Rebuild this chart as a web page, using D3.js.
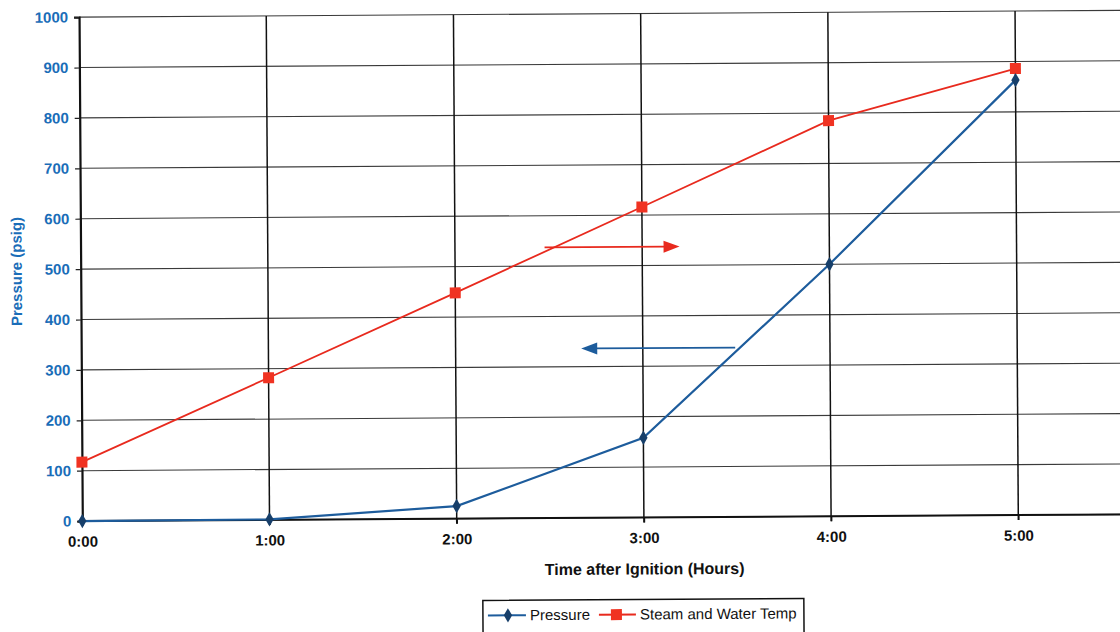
<!DOCTYPE html>
<html>
<head>
<meta charset="utf-8">
<script src="https://cdn.jsdelivr.net/npm/d3@7"></script>
<style>
  html, body { margin: 0; padding: 0; background: #fff; }
  svg { display: block; font-family: "Liberation Sans", Arial, sans-serif; }
</style>
</head>
<body>
<svg id="chart" width="1120" height="632"></svg>
<script>
// Boiler start-up curve: pressure and steam/water temperature after ignition
const timeLabels = ["0:00", "1:00", "2:00", "3:00", "4:00", "5:00"];
const pressure   = [0, 1, 25, 158, 500, 863];
const steamTemp  = [117, 282, 448, 616, 785, 886];
const yTicks     = [0, 100, 200, 300, 400, 500, 600, 700, 800, 900, 1000];

const blueText = "#1a6db8";
const blueLine = "#1d5c9c";
const blueMark = "#173f6a";
const redLine  = "#e82a1e";
const redMark  = "#f03322";
const FONT = "Liberation Sans, Arial, sans-serif";

const svg = d3.select("#chart");
// the whole sheet sits very slightly tilted
const g = svg.append("g").attr("transform", "rotate(-0.37 560 316)");

const x = d3.scaleLinear().domain([0, 5]).range([81, 1017]);
const y = d3.scaleLinear().domain([0, 1000]).range([518, 14]);
const plotRight = 1135;

// horizontal gridlines
g.append("g").selectAll("line").data(yTicks).join("line")
  .attr("x1", x(0)).attr("x2", plotRight)
  .attr("y1", d => y(d)).attr("y2", d => y(d))
  .attr("stroke", "#3a3a3a").attr("stroke-width", 1.1);

// vertical gridlines at each hour
g.append("g").selectAll("line").data(d3.range(1, 6)).join("line")
  .attr("x1", d => x(d)).attr("x2", d => x(d))
  .attr("y1", y(1000)).attr("y2", y(0) + 5)
  .attr("stroke", "#111").attr("stroke-width", 1.5);

// left axis
const yAxis = g.append("g").attr("transform", `translate(${x(0)},0)`)
  .call(d3.axisLeft(y).tickValues(yTicks).tickFormat(d3.format("d"))
    .tickSize(5).tickPadding(6));
yAxis.select(".domain").attr("stroke", "#111").attr("stroke-width", 2.2);
yAxis.selectAll(".tick line").attr("stroke", "#222").attr("stroke-width", 1.2);
yAxis.selectAll("text").attr("fill", blueText).attr("font-size", 15)
  .attr("font-weight", "bold").attr("font-family", FONT);

// bottom axis
const xAxis = g.append("g").attr("transform", `translate(0,${y(0)})`)
  .call(d3.axisBottom(x).tickValues(d3.range(0, 6)).tickFormat(i => timeLabels[i])
    .tickSize(5).tickPadding(10));
xAxis.select(".domain").remove();
g.append("line").attr("x1", x(0)).attr("x2", plotRight)
  .attr("y1", y(0)).attr("y2", y(0)).attr("stroke", "#111").attr("stroke-width", 2);
xAxis.selectAll(".tick line").attr("stroke", "#111").attr("stroke-width", 1.5);
xAxis.selectAll("text").attr("fill", "#111").attr("font-size", 15)
  .attr("font-weight", "bold").attr("font-family", FONT);

// axis titles
g.append("text")
  .attr("transform", `translate(22,${268}) rotate(-90)`)
  .attr("text-anchor", "middle").attr("fill", blueText)
  .attr("font-size", 15).attr("font-weight", "bold")
  .text("Pressure (psig)");
g.append("text")
  .attr("x", 643).attr("y", 575).attr("text-anchor", "middle")
  .attr("fill", "#111").attr("font-size", 16).attr("font-weight", "bold")
  .text("Time after Ignition (Hours)");

// series
const line = d3.line().x((d, i) => x(i)).y(d => y(d));
g.append("path").datum(steamTemp).attr("d", line)
  .attr("fill", "none").attr("stroke", redLine).attr("stroke-width", 1.8);
g.append("path").datum(pressure).attr("d", line)
  .attr("fill", "none").attr("stroke", blueLine).attr("stroke-width", 2.2);

g.append("g").selectAll("rect").data(steamTemp).join("rect")
  .attr("x", (d, i) => x(i) - 5.5).attr("y", d => y(d) - 5.5)
  .attr("width", 11).attr("height", 11).attr("fill", redMark);
const diamond = d3.symbol().type(d3.symbolDiamond).size(60);
g.append("g").selectAll("path").data(pressure).join("path")
  .attr("transform", (d, i) => `translate(${x(i)},${y(d)})`)
  .attr("d", diamond).attr("fill", blueMark);

// direction arrows pointing each curve to its axis
function arrow(x1, x2, yv, color) {
  const dir = Math.sign(x2 - x1);
  g.append("line").attr("x1", x1).attr("x2", x2 - dir * 14)
    .attr("y1", yv).attr("y2", yv).attr("stroke", color).attr("stroke-width", 1.8);
  g.append("path")
    .attr("d", `M${x2},${yv} L${x2 - dir * 16},${yv - 6} L${x2 - dir * 16},${yv + 6} Z`)
    .attr("fill", color);
}
arrow(545, 680, y(537), redLine);
arrow(735, 581, y(336), blueLine);

// legend
const lg = g.append("g").attr("transform", "translate(481,600)");
lg.append("rect").attr("width", 321).attr("height", 40)
  .attr("fill", "#fff").attr("stroke", "#111").attr("stroke-width", 1.5);
lg.append("line").attr("x1", 5).attr("x2", 43).attr("y1", 15).attr("y2", 15)
  .attr("stroke", blueLine).attr("stroke-width", 2);
lg.append("path").attr("transform", "translate(25,15)").attr("d", diamond).attr("fill", blueMark);
lg.append("text").attr("x", 47).attr("y", 20).attr("font-size", 15).attr("fill", "#111").text("Pressure");
lg.append("line").attr("x1", 116).attr("x2", 153).attr("y1", 15).attr("y2", 15)
  .attr("stroke", redLine).attr("stroke-width", 1.8);
lg.append("rect").attr("x", 128).attr("y", 9.5).attr("width", 11).attr("height", 11).attr("fill", redMark);
lg.append("text").attr("x", 157).attr("y", 20).attr("font-size", 15).attr("fill", "#111").text("Steam and Water Temp");
</script>
</body>
</html>
